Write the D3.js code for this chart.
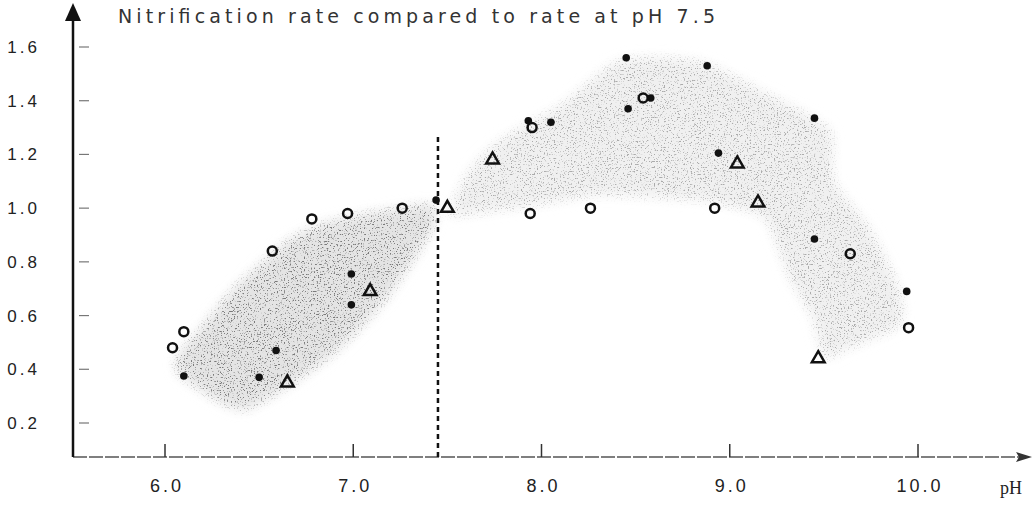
<!DOCTYPE html>
<meta charset="utf-8">
<style>
body {
    margin: 0px;
    background: #fff;
    overflow: hidden;
}
text {
  font-family: "Liberation Sans", Arial, sans-serif;
  fill: #222;
}
</style>
<body>
<script src="https://d3js.org/d3.v7.min.js"></script>
<script>
var width = 1036,
    height = 517;

// open circles
var circlePH   = [6.04, 6.10, 6.57, 6.78, 6.97, 7.26, 7.94, 7.95, 8.26, 8.54, 8.92, 9.64, 9.95];
var circleRate = [0.48, 0.54, 0.84, 0.96, 0.98, 1.00, 0.98, 1.30, 1.00, 1.41, 1.00, 0.83, 0.555];

// filled dots
var dotPH   = [6.10, 6.50, 6.59, 6.99, 6.99, 7.44, 7.93, 8.05, 8.45, 8.46, 8.58, 8.88, 8.94, 9.45, 9.45, 9.94];
var dotRate = [0.375, 0.37, 0.47, 0.755, 0.64, 1.03, 1.325, 1.32, 1.56, 1.37, 1.41, 1.53, 1.205, 1.335, 0.885, 0.69];

// triangles
var triPH   = [6.65, 7.09, 7.50, 7.74, 9.04, 9.15, 9.47];
var triRate = [0.35, 0.69, 1.00, 1.18, 1.165, 1.02, 0.44];

// shaded areas (outline, pH / rate)
var lowBandPH   = [6.08, 6.42, 6.88, 7.17, 7.41, 7.43, 7.25, 6.88, 6.66, 6.37, 6.19, 6.07];
var lowBandRate = [0.38, 0.25, 0.45, 0.66, 0.91, 1.01, 1.00, 0.95, 0.88, 0.70, 0.55, 0.45];

var highBandPH   = [7.51, 7.62, 7.78, 8.10, 8.42, 8.84, 9.21, 9.53, 9.55, 9.745, 9.90, 9.90, 9.60, 9.50, 9.44, 9.32, 9.21, 9.11, 8.84, 8.31, 7.94, 7.57];
var highBandRate = [0.985, 1.14, 1.25, 1.38, 1.55, 1.545, 1.42, 1.29, 1.10, 0.92, 0.695, 0.565, 0.47, 0.445, 0.595, 0.74, 0.94, 0.99, 1.03, 1.05, 1.01, 0.975];

var xTicks = [6, 7, 8, 9, 10];
var yTicks = [0.2, 0.4, 0.6, 0.8, 1.0, 1.2, 1.4, 1.6];
var refPH = 7.45;

var x = d3.scaleLinear().domain([6, 10]).range([165, 918]);
var y = d3.scaleLinear().domain([0.2, 1.6]).range([423, 47]);
var x0 = 73, yBase = 457;

var svg = d3.select("body").append("svg")
    .attr("width", width)
    .attr("height", height);

var defs = svg.append("defs");
// soft blurred base
defs.append("filter").attr("id", "soft")
    .attr("x", "-10%").attr("y", "-10%").attr("width", "120%").attr("height", "120%")
  .append("feGaussianBlur").attr("stdDeviation", 6);
// sparse speckles
var f = defs.append("filter").attr("id", "speckle")
    .attr("x", "-10%").attr("y", "-10%").attr("width", "120%").attr("height", "120%");
f.append("feTurbulence").attr("type", "fractalNoise").attr("baseFrequency", 0.7)
    .attr("numOctaves", 2).attr("seed", 5).attr("result", "noise");
f.append("feColorMatrix").attr("in", "noise").attr("type", "matrix")
    .attr("values", "0 0 0 0 0  0 0 0 0 0  0 0 0 0 0  7 0 0 0 -4.1").attr("result", "mask");
f.append("feGaussianBlur").attr("in", "SourceGraphic").attr("stdDeviation", 4).attr("result", "blur");
f.append("feComposite").attr("in", "blur").attr("in2", "mask").attr("operator", "in");

function outline(px, py) {
  return d3.line().curve(d3.curveCardinalClosed.tension(0.4))
    .x(function(d, i) { return x(px[i]); })
    .y(function(d, i) { return y(py[i]); })(px);
}

svg.append("path").attr("d", outline(lowBandPH, lowBandRate))
    .attr("fill", "#e4e4e4").attr("filter", "url(#soft)");
svg.append("path").attr("d", outline(highBandPH, highBandRate))
    .attr("fill", "#f0f0f0").attr("filter", "url(#soft)");
svg.append("path").attr("d", outline(lowBandPH, lowBandRate))
    .attr("fill", "#7a7a7a").attr("filter", "url(#speckle)");
svg.append("path").attr("d", outline(highBandPH, highBandRate))
    .attr("fill", "#ababab").attr("filter", "url(#speckle)");

// axes
svg.append("line").attr("x1", x0).attr("x2", 1020).attr("y1", yBase).attr("y2", yBase)
    .attr("stroke", "#555").attr("stroke-width", 1.6).attr("stroke-dasharray", "14,2");
svg.append("path").attr("d", "M1032," + yBase + " L1016," + (yBase - 5) + " L1019," + yBase + " L1016," + (yBase + 5) + "Z")
    .attr("fill", "#333");
svg.append("line").attr("x1", x0).attr("x2", x0).attr("y1", 18).attr("y2", yBase)
    .attr("stroke", "#111").attr("stroke-width", 2.5);
svg.append("path").attr("d", "M" + x0 + ",3 L" + (x0 + 8) + ",21 L" + (x0 - 8) + ",21Z")
    .attr("fill", "#111");

svg.selectAll(".xt").data(xTicks).enter().append("line")
    .attr("x1", function(d) { return x(d); }).attr("x2", function(d) { return x(d); })
    .attr("y1", yBase - 13).attr("y2", yBase)
    .attr("stroke", "#333").attr("stroke-width", 1.5);
svg.selectAll(".xl").data(xTicks).enter().append("text")
    .attr("x", function(d) { return x(d) + 2; }).attr("y", 492)
    .attr("text-anchor", "middle").attr("font-size", 18).attr("letter-spacing", 3)
    .text(function(d) { return d.toFixed(1); });
svg.append("text").attr("x", 1000).attr("y", 494).attr("font-size", 18)
    .style("font-family", "'Liberation Serif', serif").text("pH");

svg.selectAll(".yt").data(yTicks).enter().append("line")
    .attr("x1", 79).attr("x2", 89)
    .attr("y1", function(d) { return y(d); }).attr("y2", function(d) { return y(d); })
    .attr("stroke", "#777").attr("stroke-width", 1.2);
svg.selectAll(".yl").data(yTicks).enter().append("text")
    .attr("x", 40).attr("y", function(d) { return y(d) + 6; })
    .attr("text-anchor", "end").attr("font-size", 17).attr("letter-spacing", 3)
    .text(function(d) { return d.toFixed(1); });

svg.append("text").attr("x", 118).attr("y", 23).attr("font-size", 19)
    .style("font-family", "'DejaVu Sans', sans-serif").style("fill", "#333")
    .attr("textLength", 597).attr("lengthAdjust", "spacing")
    .text("Nitrification rate compared to rate at pH 7.5");

// reference line
svg.append("line").attr("x1", x(refPH)).attr("x2", x(refPH)).attr("y1", 137).attr("y2", yBase)
    .attr("stroke", "#111").attr("stroke-width", 2.5).attr("stroke-dasharray", "5,4");

// markers
svg.selectAll(".oc").data(circlePH).enter().append("circle")
    .attr("cx", function(d) { return x(d); })
    .attr("cy", function(d, i) { return y(circleRate[i]); })
    .attr("r", 4.5).attr("fill", "none").attr("stroke", "#111").attr("stroke-width", 2.5);
svg.selectAll(".fd").data(dotPH).enter().append("circle")
    .attr("cx", function(d) { return x(d); })
    .attr("cy", function(d, i) { return y(dotRate[i]); })
    .attr("r", 3.8).attr("fill", "#111");
var tri = d3.symbol().type(d3.symbolTriangle).size(70);
svg.selectAll(".tr").data(triPH).enter().append("path")
    .attr("d", tri)
    .attr("transform", function(d, i) { return "translate(" + x(d) + "," + y(triRate[i]) + ")"; })
    .attr("fill", "none").attr("stroke", "#111").attr("stroke-width", 2.5);
</script>
</body>
</html>
